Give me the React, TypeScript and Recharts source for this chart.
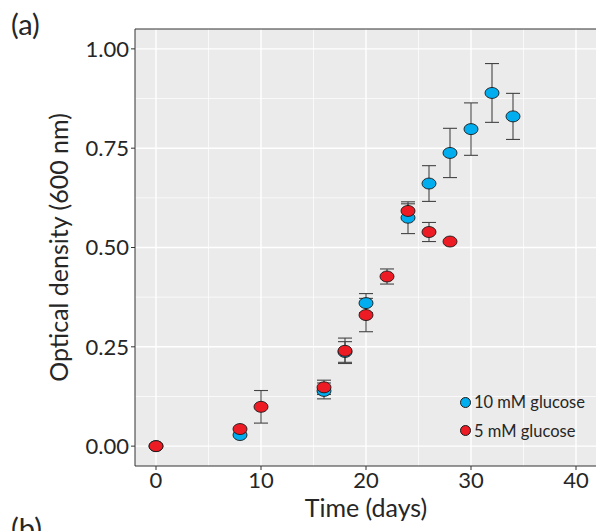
import { ScatterChart, Scatter, XAxis, YAxis, CartesianGrid, ErrorBar, ReferenceLine } from 'recharts';

// 10 mM glucose (blue)
const days10 = [0, 8, 16, 18, 20, 24, 26, 28, 30, 32, 34];
const od10 = [0.0, 0.028, 0.139, 0.237, 0.36, 0.575, 0.661, 0.738, 0.798, 0.889, 0.83];
const err10 = [0.0, 0.0, 0.02, 0.026, 0.024, 0.04, 0.045, 0.062, 0.066, 0.074, 0.058];

// 5 mM glucose (red)
const days5 = [0, 8, 10, 16, 18, 20, 22, 24, 26, 28];
const od5 = [0.0, 0.043, 0.099, 0.148, 0.24, 0.33, 0.427, 0.592, 0.539, 0.515];
const err5 = [0.0, 0.0, 0.041, 0.018, 0.032, 0.042, 0.019, 0.018, 0.024, 0.0];

const xTicks = [0, 10, 20, 30, 40];
const yTicks = [0, 0.25, 0.5, 0.75, 1.0];
const xMinor = [5, 15, 25, 35];
const yMinor = [0.125, 0.375, 0.625, 0.875];

const legendItems = [
  { name: '10 mM glucose', color: '#00AEEF' },
  { name: '5 mM glucose', color: '#ED1C24' },
];

const data10 = days10.map((d, i) => ({ day: d, od: od10[i], err: err10[i] }));
const data5 = days5.map((d, i) => ({ day: d, od: od5[i], err: err5[i] }));

const FONT = 'Lato, "Open Sans", sans-serif';
const TEXT = '#262626';

const makeShape = (fill: string) => (props: any) => (
  <ellipse cx={props.cx} cy={props.cy} rx={7} ry={5.5} fill={fill} stroke="#1a1a1a" strokeWidth={0.9} />
);

export default function App() {
  return (
    <div style={{ position: 'absolute', left: 0, top: 0, width: 596, height: 531, background: '#fff', fontFamily: FONT, overflow: 'hidden' }}>
      <div style={{ position: 'absolute', left: 11, top: 6, fontSize: 29, color: TEXT }}>(a)</div>
      <div style={{ position: 'absolute', left: 11, top: 510, fontSize: 29, color: TEXT }}>(b)</div>
      <ScatterChart width={597} height={531} margin={{ top: 29, right: 0, bottom: 0, left: 0 }}>
        <CartesianGrid fill="#EBEBEB" stroke="#FFFFFF" strokeWidth={1.4} horizontalValues={yTicks} verticalValues={xTicks} />
        {xMinor.map((v) => (
          <ReferenceLine key={'x' + v} x={v} stroke="#FFFFFF" strokeWidth={0.7} />
        ))}
        {yMinor.map((v) => (
          <ReferenceLine key={'y' + v} y={v} stroke="#FFFFFF" strokeWidth={0.7} />
        ))}
        <ReferenceLine y={1.05} stroke="#333333" strokeWidth={1.2} />
        <XAxis
          type="number"
          dataKey="day"
          domain={[-2, 42]}
          ticks={xTicks}
          allowDataOverflow
          height={65}
          stroke="#333333"
          tickSize={4}
          tick={{ fill: TEXT, fontSize: 22, fontFamily: FONT }}
          label={{
            content: (p: any) => (
              <text x={p.viewBox.x + p.viewBox.width / 2} y={p.viewBox.y + 51} textAnchor="middle" fontSize={25} fontFamily={FONT} fill={TEXT}>
                Time (days)
              </text>
            ),
          }}
        />
        <YAxis
          type="number"
          dataKey="od"
          domain={[-0.05, 1.05]}
          ticks={yTicks}
          allowDataOverflow
          width={135}
          stroke="#333333"
          tickSize={4}
          tickFormatter={(v: number) => v.toFixed(2)}
          tick={{ fill: TEXT, fontSize: 22, fontFamily: FONT }}
          label={{
            content: (p: any) => {
              const cx = p.viewBox.x + 58;
              const cy = p.viewBox.y + p.viewBox.height / 2;
              return (
                <text x={cx} y={cy} transform={`rotate(-90 ${cx} ${cy})`} textAnchor="middle" dominantBaseline="central" fontSize={25} fontFamily={FONT} fill={TEXT}>
                  Optical density (600 nm)
                </text>
              );
            },
          }}
        />
        <Scatter data={data10} isAnimationActive={false} shape={makeShape('#00AEEF')}>
          <ErrorBar dataKey="err" direction="y" width={7} stroke="#444444" strokeWidth={1.1} />
        </Scatter>
        <Scatter data={data5} isAnimationActive={false} shape={makeShape('#ED1C24')}>
          <ErrorBar dataKey="err" direction="y" width={7} stroke="#444444" strokeWidth={1.1} />
        </Scatter>
      </ScatterChart>
      {legendItems.map((it, i) => (
        <div key={it.name} style={{ position: 'absolute', left: 460, top: 392 + i * 28.5, display: 'flex', alignItems: 'center', fontSize: 16.5, color: TEXT }}>
          <span style={{ display: 'inline-block', width: 9, height: 9, borderRadius: '50%', background: it.color, border: '1px solid #1a1a1a', marginRight: 3 }} />
          {it.name}
        </div>
      ))}
    </div>
  );
}
